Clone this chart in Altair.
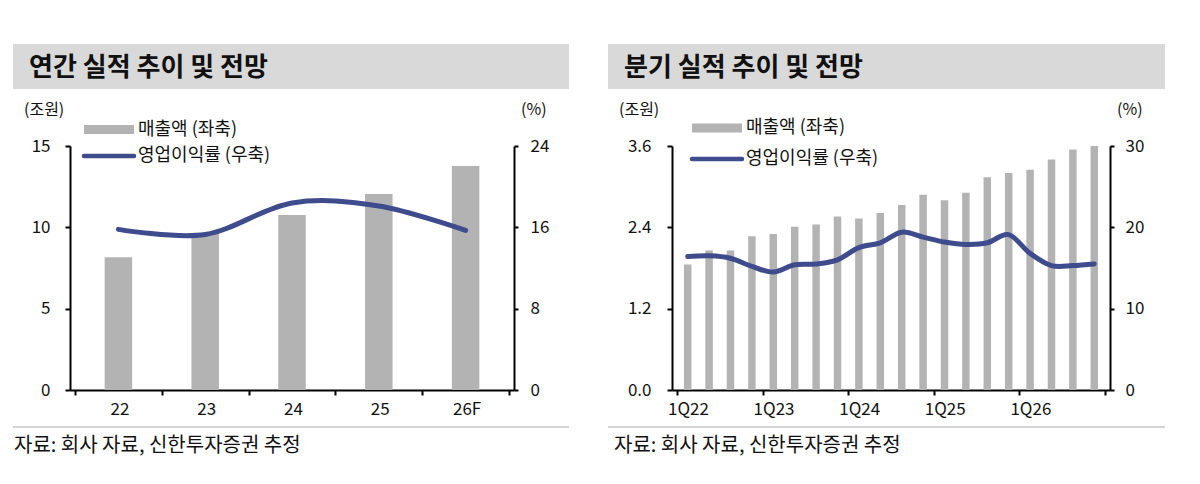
import json
import altair as alt
import pandas as pd

FONT = "Noto Sans CJK KR"

# ---------------- data ----------------
years = ["22", "23", "24", "25", "26F"]
annual_sales = [8.16, 9.65, 10.76, 12.05, 13.77]      # 매출액 (조원)
annual_opm = [15.8, 15.3, 18.4, 18.1, 15.7]           # 영업이익률 (%)

quarters = ["1Q22", "2Q22", "3Q22", "4Q22",
            "1Q23", "2Q23", "3Q23", "4Q23",
            "1Q24", "2Q24", "3Q24", "4Q24",
            "1Q25", "2Q25", "3Q25", "4Q25",
            "1Q26", "2Q26", "3Q26", "4Q26"]
quarter_sales = [1.85, 2.06, 2.06, 2.27, 2.30, 2.41, 2.44, 2.56, 2.53, 2.61,
                 2.73, 2.88, 2.80, 2.91, 3.14, 3.20, 3.25, 3.40, 3.55, 3.60]
quarter_opm = [16.4, 16.5, 16.2, 15.2, 14.5, 15.4, 15.5, 16.0, 17.5, 18.1,
               19.4, 18.8, 18.2, 17.9, 18.1, 19.1, 16.8, 15.3, 15.3, 15.5]

panel_titles = ["연간 실적 추이 및 전망", "분기 실적 추이 및 전망"]
legend_labels = ["매출액 (좌축)", "영업이익률 (우축)"]
unit_labels = ["(조원)", "(%)"]
source_text = "자료: 회사 자료, 신한투자증권 추정"

annual_left_ticks = [0, 5, 10, 15]
annual_right_ticks = [0, 8, 16, 24]
quarter_left_ticks = [0.0, 1.2, 2.4, 3.6]
quarter_right_ticks = [0, 10, 20, 30]

BAR = "#B3B3B3"
LINE = "#3E4B8C"
TXT = "#111111"


def text_layer(s, x, y, size, weight="normal", align="left"):
    return alt.Chart(pd.DataFrame({"t": [s]})).mark_text(
        align=align, baseline="middle", font=FONT, fontSize=size,
        fontWeight=weight, color=TXT
    ).encode(x=alt.value(x), y=alt.value(y), text="t:N")


def one_row():
    return pd.DataFrame({"k": [0]})


def panel(cats, sales, opm, every, W, H, lticks, rticks, lfmt, bar_w, g):
    n = len(cats)
    df = pd.DataFrame({
        "cat": cats,
        "pos": [i + 0.5 for i in range(n)],
        "sales": sales,
        "opm": opm,
    })
    arr = json.dumps(cats, ensure_ascii=False)
    x_enc = alt.X(
        "pos:Q",
        scale=alt.Scale(domain=[0, n], nice=False, zero=False),
        axis=alt.Axis(
            values=list(range(0, n + 1, every)),
            labelExpr=f"datum.value < {n} ? {arr}[datum.value] : ''",
            labelOffset=W / n / 2,
            labelFlush=False,
            labelOverlap=False,
            tickSize=5,
            labelPadding=6,
            labelFontSize=17,
            title=None,
        ),
    )
    bars = alt.Chart(df).mark_bar(size=bar_w, color=BAR).encode(
        x=x_enc,
        y=alt.Y(
            "sales:Q",
            scale=alt.Scale(domain=[0, lticks[-1]], nice=False),
            axis=alt.Axis(values=lticks, orient="left", format=lfmt,
                          tickSize=5, labelPadding=g["lpad"], labelFontSize=17,
                          title=None),
        ),
    )
    line = alt.Chart(df).mark_line(
        interpolate="cardinal", strokeWidth=5, strokeCap="round",
        strokeJoin="round", color=LINE
    ).encode(
        x=x_enc,
        y=alt.Y(
            "opm:Q",
            scale=alt.Scale(domain=[0, rticks[-1]], nice=False),
            axis=alt.Axis(values=rticks, orient="right", tickSize=4,
                          labelPadding=g["rpad"], labelFontSize=17, title=None),
        ),
    )

    band = alt.Chart(one_row()).mark_rect(color="#D9D9D9").encode(
        x=alt.value(g["band_x"]), x2=alt.value(g["band_x2"]),
        y=alt.value(-102), y2=alt.value(-57),
    )
    title = text_layer(g["title"], g["title_x"], -78, 26, "bold")
    unit_l = text_layer(unit_labels[0], g["unit_x"], -36, 16)
    unit_r = text_layer(unit_labels[1], W + 7, -36, 16)

    leg_rect = alt.Chart(one_row()).mark_rect(color=BAR).encode(
        x=alt.value(g["leg_x"]), x2=alt.value(g["leg_x"] + 50),
        y=alt.value(g["leg_y1"] - 4.5), y2=alt.value(g["leg_y1"] + 4.5),
    )
    leg_line = alt.Chart(one_row()).mark_rule(
        color=LINE, strokeWidth=4.5, strokeCap="round"
    ).encode(
        x=alt.value(g["leg_x"]), x2=alt.value(g["leg_x"] + 50),
        y=alt.value(g["leg_y2"]),
    )
    leg_t1 = text_layer(legend_labels[0], g["leg_x"] + 54, g["leg_y1"], 18)
    leg_t2 = text_layer(legend_labels[1], g["leg_x"] + 54, g["leg_y2"], 18)

    src_rule = alt.Chart(one_row()).mark_rule(
        color="#C4C4C4", strokeWidth=1.5
    ).encode(
        x=alt.value(g["band_x"]), x2=alt.value(g["band_x2"]), y=alt.value(281),
    )
    src = text_layer(source_text, g["src_x"], 300, 20)

    return alt.layer(
        bars, line, band, title, unit_l, unit_r,
        leg_rect, leg_line, leg_t1, leg_t2, src_rule, src
    ).resolve_scale(y="independent").properties(width=W, height=H)


left = panel(
    years, annual_sales, annual_opm, 1, 444, 244,
    annual_left_ticks, annual_right_ticks, "d", 27.5,
    dict(band_x=-57, band_x2=499, title=panel_titles[0], title_x=-41,
         unit_x=-46, leg_x=14, leg_y1=-16.5, leg_y2=10, src_x=-56,
         lpad=15, rpad=12),
)
right = panel(
    quarters, quarter_sales, quarter_opm, 4, 438, 244,
    quarter_left_ticks, quarter_right_ticks, ".1f", 7.5,
    dict(band_x=-64, band_x2=493, title=panel_titles[1], title_x=-48,
         unit_x=-53, leg_x=20, leg_y1=-18, leg_y2=13, src_x=-58,
         lpad=16, rpad=11),
)

chart = alt.hconcat(left, right, spacing=158, bounds="flush").properties(
    padding={"left": 4, "top": 36, "right": 5, "bottom": 5}
).configure_axis(
    grid=False,
    domainColor="#000000",
    domainWidth=2,
    tickColor="#000000",
    tickWidth=2,
    labelColor=TXT,
    labelFont=FONT,
).configure_view(strokeWidth=0)

chart.save("out.html", embed_options={"renderer": "svg", "actions": False})
